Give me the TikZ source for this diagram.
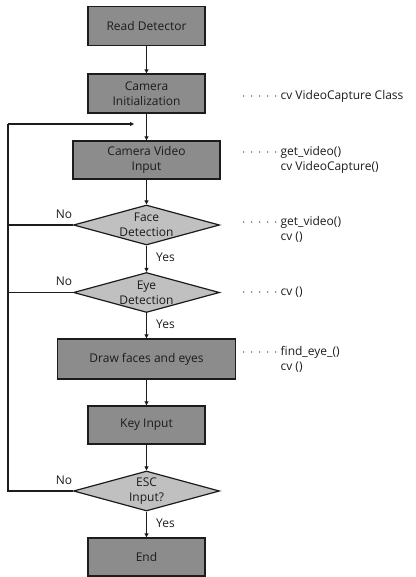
\documentclass[tikz,border=0pt]{standalone}
\usepackage{fontspec}
\setmainfont{Open Sans}
\usetikzlibrary{shapes.geometric,arrows.meta}

\definecolor{boxgray}{RGB}{140,140,140}
\definecolor{decgray}{RGB}{192,192,192}
\definecolor{inkgray}{RGB}{28,28,28}

\tikzset{
  procbox/.style={draw=inkgray, line width=1.4pt, fill=boxgray, text=inkgray,
    minimum width=117pt, minimum height=39pt, inner sep=0pt, align=center,
    font=\fontsize{12}{15}\selectfont},
  decision/.style={diamond, draw=inkgray, line width=1.2pt, fill=decgray, text=inkgray,
    aspect=3.6, minimum width=146pt, minimum height=40pt, inner xsep=-8pt, inner ysep=-4pt,
    align=center, font=\fontsize{12}{15}\selectfont},
  flow/.style={-{Triangle[length=4pt,width=4pt]}, line width=1.1pt, draw=inkgray},
  loopline/.style={line width=1.3pt, draw=inkgray},
  answer/.style={text=inkgray, inner sep=0pt, font=\fontsize{12}{15}\selectfont},
  note/.style={anchor=west, inner sep=0pt, text=inkgray, font=\fontsize{12}{15}\selectfont}
}

\newcommand{\dotrow}{$\cdot\,\cdot\,\cdot\,\cdot\,\cdot$}

\begin{document}
\begin{tikzpicture}[x=1pt, y=-1pt]
    \useasboundingbox (0,0) rectangle (415,577);

    % Main column of the flow chart
    \node[procbox] (read) at (146.5,26) {Read Detector};
    \node[procbox] (init) at (146.5,93.5) {Camera\\Initialization};
    \node[procbox, minimum width=147pt, minimum height=38pt] (video) at (146.5,160) {Camera Video\\Input};
    \node[decision] (face) at (146.5,225) {Face\\Detection};
    \node[decision] (eye) at (146.5,292.5) {Eye\\Detection};
    \node[procbox, minimum width=178pt, minimum height=40pt] (drawfe) at (146.5,359) {Draw faces and eyes};
    \node[procbox, minimum height=38pt] (key) at (146.5,425) {Key Input};
    \node[decision] (esc) at (146.5,491) {ESC\\Input?};
    \node[procbox, minimum height=38pt] (end) at (146.5,557) {End};

    % Arrows down the column
    \draw[flow] (read) -- (init);
    \draw[flow] (init) -- (video);
    \draw[flow] (video) -- (face);
    \draw[flow] (face) -- (eye);
    \draw[flow] (eye) -- (drawfe);
    \draw[flow] (drawfe) -- (key);
    \draw[flow] (key) -- (esc);
    \draw[flow] (esc) -- (end);

    % Back loop on the left
    \coordinate (loopleft) at (8,124);
    \coordinate (loopend) at (134,124);
    \draw[loopline] (esc.west) -| (loopleft);
    \draw[flow, line width=1.3pt] (loopleft) -- (loopend);
    \draw[loopline] (face.west) -- (face.west -| loopleft);
    \draw[loopline] (eye.west) -- (eye.west -| loopleft);

    % Yes / No labels
    \node[answer] (faceno) at ([xshift=-9pt,yshift=11pt]face.west) {No};
    \node[answer] (eyeno) at ([xshift=-9pt,yshift=11pt]eye.west) {No};
    \node[answer] (escno) at ([xshift=-9pt,yshift=11pt]esc.west) {No};
    \node[answer] (faceyes) at ([xshift=19pt,yshift=-12pt]face.south) {Yes};
    \node[answer] (eyeyes) at ([xshift=19pt,yshift=-11pt]eye.south) {Yes};
    \node[answer] (escyes) at ([xshift=19pt,yshift=-12pt]esc.south) {Yes};

    % Notes on the right
    \node[note] (noteinit) at (242,96) {\dotrow\ cv VideoCapture Class};
    \node[note] (notevideo) at (242,160) {\begin{tabular}{@{}l@{\ }l@{}}\dotrow & get\_video()\\ & cv VideoCapture()\end{tabular}};
    \node[note] (noteface) at (242,230) {\begin{tabular}{@{}l@{\ }l@{}}\dotrow & get\_video()\\ & cv ()\end{tabular}};
    \node[note] (noteeye) at (242,292.5) {\dotrow\ cv ()};
    \node[note] (notedraw) at (242,360) {\begin{tabular}{@{}l@{\ }l@{}}\dotrow & find\_eye\_()\\ & cv ()\end{tabular}};

\end{tikzpicture}
\end{document}
